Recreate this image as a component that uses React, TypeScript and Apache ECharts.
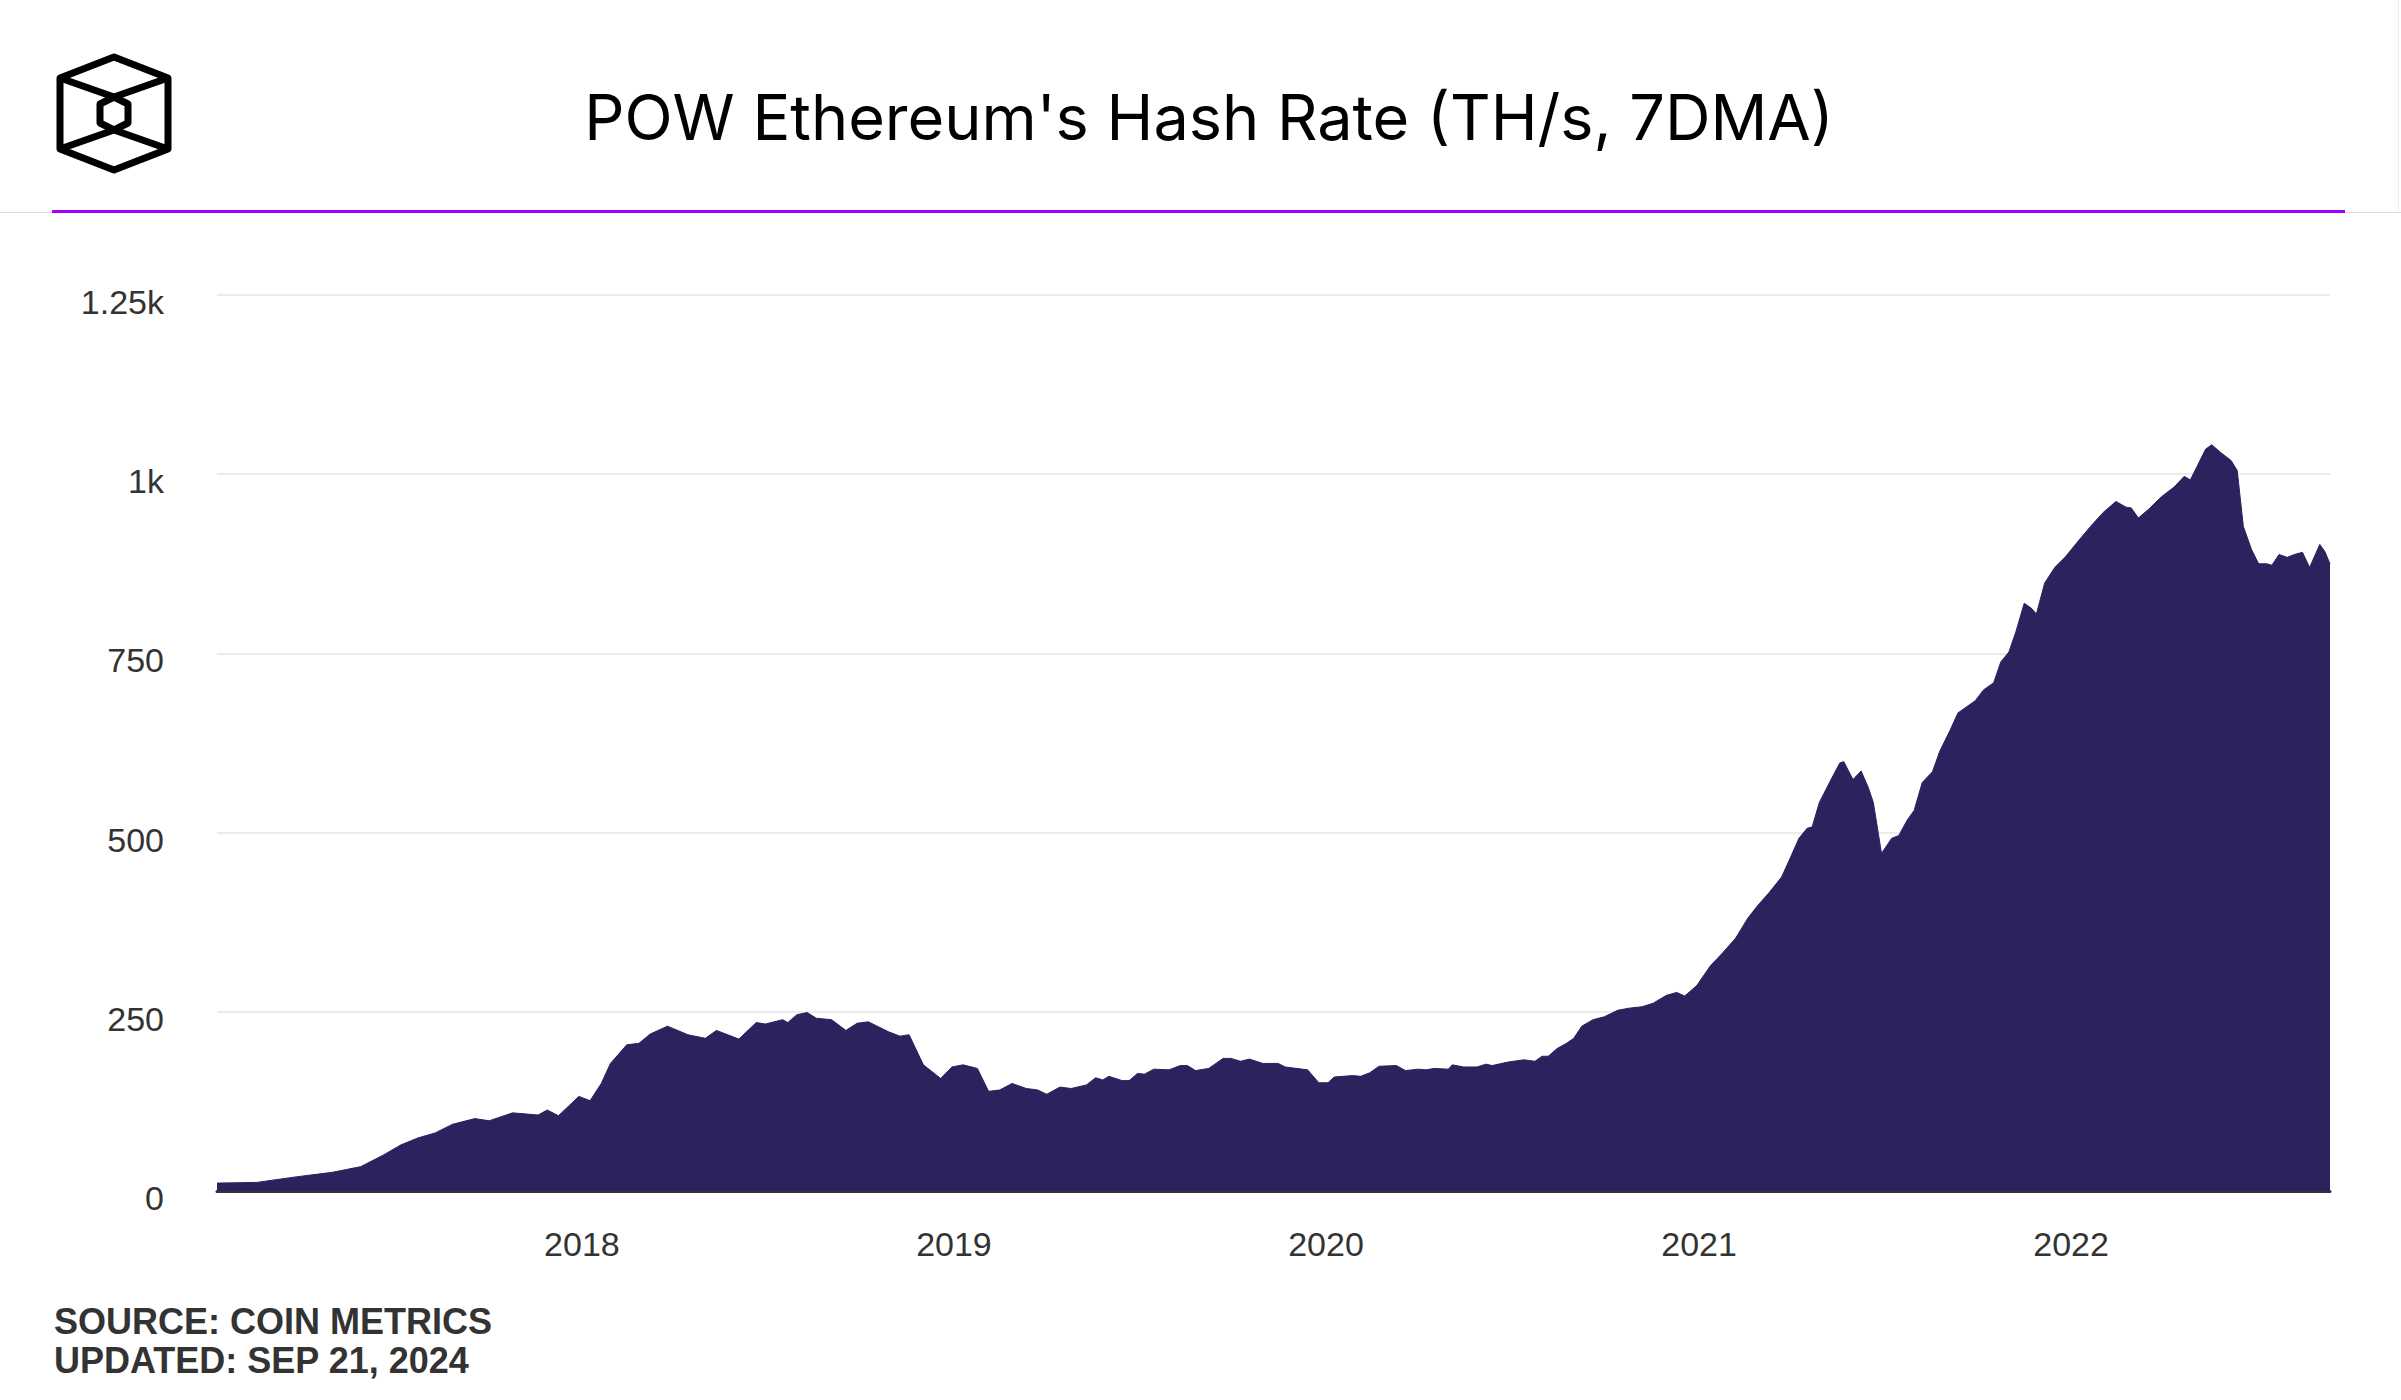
import React, { useEffect, useRef } from "react";
import * as echarts from "echarts";

const TITLE = "POW Ethereum's Hash Rate (TH/s, 7DMA)";
const SOURCE_LINE = "SOURCE: COIN METRICS";
const UPDATED_LINE = "UPDATED: SEP 21, 2024";

const yTicks = [0, 250, 500, 750, 1000, 1250];

const dates = [
  "2017-01-08", "2017-02-16", "2017-03-28", "2017-05-01", "2017-05-29", "2017-06-20", "2017-07-07", "2017-07-24",
  "2017-08-10", "2017-08-27", "2017-09-18", "2017-10-02", "2017-10-25", "2017-11-19", "2017-11-28", "2017-12-09",
  "2017-12-29", "2018-01-09", "2018-01-20", "2018-01-29", "2018-02-14", "2018-02-26", "2018-03-09", "2018-03-26",
  "2018-04-15", "2018-05-02", "2018-05-13", "2018-06-04", "2018-06-21", "2018-06-30", "2018-07-17", "2018-07-22",
  "2018-07-31", "2018-08-10", "2018-08-19", "2018-09-03", "2018-09-17", "2018-09-28", "2018-10-09", "2018-10-29",
  "2018-11-09", "2018-11-18", "2018-12-02", "2018-12-19", "2018-12-30", "2019-01-10", "2019-01-24", "2019-02-04",
  "2019-02-15", "2019-02-27", "2019-03-13", "2019-03-24", "2019-04-02", "2019-04-15", "2019-04-26", "2019-05-11",
  "2019-05-20", "2019-05-27", "2019-06-02", "2019-06-15", "2019-06-22", "2019-06-30", "2019-07-07", "2019-07-16",
  "2019-07-31", "2019-08-11", "2019-08-18", "2019-08-26", "2019-09-08", "2019-09-22", "2019-09-30", "2019-10-09",
  "2019-10-18", "2019-10-31", "2019-11-15", "2019-11-22", "2019-12-14", "2019-12-25", "2020-01-03", "2020-01-09",
  "2020-01-27", "2020-02-04", "2020-02-13", "2020-02-22", "2020-03-10", "2020-03-19", "2020-04-01", "2020-04-08",
  "2020-04-16", "2020-04-30", "2020-05-04", "2020-05-15", "2020-05-28", "2020-06-06", "2020-06-12", "2020-06-28",
  "2020-07-13", "2020-07-24", "2020-07-31", "2020-08-06", "2020-08-15", "2020-08-24", "2020-08-31", "2020-09-08",
  "2020-09-19", "2020-09-30", "2020-10-13", "2020-10-24", "2020-11-06", "2020-11-17", "2020-11-30", "2020-12-10",
  "2020-12-18", "2020-12-30", "2021-01-12", "2021-01-24", "2021-02-06", "2021-02-18", "2021-02-28", "2021-03-10",
  "2021-03-23", "2021-03-30", "2021-04-09", "2021-04-17", "2021-04-22", "2021-04-29", "2021-05-09", "2021-05-19",
  "2021-05-23", "2021-06-01", "2021-06-09", "2021-06-16", "2021-06-21", "2021-06-29", "2021-07-09", "2021-07-16",
  "2021-07-24", "2021-07-31", "2021-08-08", "2021-08-18", "2021-08-25", "2021-09-04", "2021-09-12", "2021-09-22",
  "2021-09-29", "2021-10-07", "2021-10-17", "2021-10-24", "2021-11-01", "2021-11-08", "2021-11-16", "2021-11-23",
  "2021-11-28", "2021-12-06", "2021-12-16", "2021-12-26", "2022-01-07", "2022-01-20", "2022-02-01", "2022-02-14",
  "2022-02-24", "2022-03-01", "2022-03-08", "2022-03-18", "2022-03-31", "2022-04-12", "2022-04-22", "2022-04-28",
  "2022-05-05", "2022-05-13", "2022-05-19", "2022-05-28", "2022-06-07", "2022-06-13", "2022-06-19", "2022-06-27",
  "2022-07-04", "2022-07-12", "2022-07-17", "2022-07-24", "2022-08-01", "2022-08-08", "2022-08-16", "2022-08-23",
  "2022-09-02", "2022-09-07", "2022-09-12",
];

const hashRate = [
  11, 12, 20, 26, 34, 50, 64, 74,
  81, 93, 101, 98, 109, 106, 113, 105,
  132, 126, 150, 178, 204, 206, 219, 230,
  218, 213, 224, 212, 235, 233, 239, 235,
  246, 249, 241, 239, 224, 234, 236, 222,
  216, 218, 176, 157, 173, 176, 171, 139,
  141, 150, 143, 141, 135, 145, 143, 148,
  158, 155, 160, 154, 154, 164, 163, 170,
  169, 175, 175, 168, 171, 185, 185, 181,
  184, 178, 178, 173, 169, 151, 151, 159,
  161, 160, 165, 174, 175, 168, 170, 169,
  171, 170, 176, 173, 173, 177, 175, 180,
  183, 181, 188, 188, 199, 206, 213, 230,
  239, 243, 252, 255, 257, 262, 273, 277,
  272, 287, 314, 332, 353, 381, 399, 415,
  438, 460, 492, 506, 508, 542, 570, 597,
  599, 574, 586, 563, 542, 471, 492, 496,
  517, 531, 570, 585, 613, 642, 667, 677,
  684, 699, 709, 738, 752, 781, 820, 813,
  805, 848, 870, 884, 905, 927, 946, 962,
  954, 953, 939, 951, 969, 982, 997, 992,
  1012, 1035, 1041, 1030, 1019, 1005, 927, 895,
  875, 875, 873, 888, 884, 888, 891, 870,
  902, 892, 875,
];

const AREA_COLOR = "#2a235d";

export default function App() {
  const ref = useRef<HTMLDivElement>(null);

  useEffect(() => {
    document.body.style.margin = "0";
    document.body.style.overflow = "hidden";
    if (!ref.current) return;
    const chart = echarts.init(ref.current, undefined, { renderer: "svg" });
    const seriesData = dates.map((d, i) => [d, hashRate[i]]);
    const option = {
      animation: false,
      backgroundColor: "#ffffff",
      grid: { left: 217, right: 71, top: 295, bottom: 209, containLabel: false },
      xAxis: {
        type: "time",
        min: dates[0],
        max: dates[dates.length - 1],
        minInterval: 365 * 24 * 3600 * 1000,
        maxInterval: 366 * 24 * 3600 * 1000,
        axisLine: { show: true, lineStyle: { color: "#333333", width: 3 } },
        axisTick: { show: false },
        splitLine: { show: false },
        axisLabel: {
          color: "#333333",
          fontSize: 34,
          fontFamily: "Liberation Sans, Arial, sans-serif",
          margin: 36,
          showMinLabel: false,
          showMaxLabel: false,
          formatter: (v: number) => {
            const d = new Date(v);
            return d.getMonth() === 0 && d.getDate() === 1 ? String(d.getFullYear()) : "";
          },
        },
      },
      yAxis: {
        type: "value",
        min: yTicks[0],
        max: yTicks[yTicks.length - 1],
        interval: 250,
        axisLine: { show: false },
        axisTick: { show: false },
        splitLine: { show: true, lineStyle: { color: "#ececec", width: 2 } },
        axisLabel: {
          color: "#333333",
          fontSize: 34,
          fontFamily: "Liberation Sans, Arial, sans-serif",
          margin: 53,
          verticalAlign: "top",
          lineHeight: 14,
          formatter: (v: number) => (v >= 1000 ? `${v / 1000}k` : String(v)),
        },
      },
      series: [
        {
          type: "line",
          data: seriesData,
          showSymbol: false,
          symbol: "none",
          lineStyle: { color: AREA_COLOR, width: 1 },
          areaStyle: { color: AREA_COLOR, opacity: 1 },
          z: 1,
        },
      ],
      graphic: [
        { type: "line", shape: { x1: 0, y1: 212.5, x2: 2401, y2: 212.5 }, style: { stroke: "#e2d2f2", lineWidth: 1 } },
        { type: "line", shape: { x1: 2398.5, y1: 0, x2: 2398.5, y2: 212 }, style: { stroke: "#eeeeee", lineWidth: 1 } },
        { type: "rect", shape: { x: 52, y: 210, width: 2293, height: 3 }, style: { fill: "#a100ff" } },
        {
          type: "polygon",
          shape: { points: [[114, 57], [168, 78], [168, 149], [114, 170], [60, 149], [60, 78]] },
          style: { fill: "none", stroke: "#000000", lineWidth: 7, lineJoin: "round" },
        },
        {
          type: "polyline",
          shape: { points: [[60, 78], [114, 97], [168, 78]] },
          style: { fill: "none", stroke: "#000000", lineWidth: 7, lineJoin: "round" },
        },
        {
          type: "polyline",
          shape: { points: [[60, 149], [114, 130], [168, 149]] },
          style: { fill: "none", stroke: "#000000", lineWidth: 7, lineJoin: "round" },
        },
        {
          type: "polygon",
          shape: { points: [[114, 97], [128, 104], [128, 123], [114, 130], [100, 123], [100, 104]] },
          style: { fill: "none", stroke: "#000000", lineWidth: 7, lineJoin: "round" },
        },
        {
          type: "text",
          x: 1209,
          y: 117,
          style: {
            text: TITLE,
            fontSize: 63,
            fontFamily: "Inter, sans-serif",
            fontWeight: 400,
            fill: "#000000",
            textAlign: "center",
            textVerticalAlign: "middle",
          },
        },
        {
          type: "text",
          x: 54,
          y: 1321,
          style: {
            text: SOURCE_LINE,
            fontSize: 36,
            fontFamily: "Liberation Sans, Arial, sans-serif",
            fontWeight: "bold",
            fill: "#333333",
            textAlign: "left",
            textVerticalAlign: "middle",
          },
        },
        {
          type: "text",
          x: 54,
          y: 1360,
          style: {
            text: UPDATED_LINE,
            fontSize: 36,
            fontFamily: "Liberation Sans, Arial, sans-serif",
            fontWeight: "bold",
            fill: "#333333",
            textAlign: "left",
            textVerticalAlign: "middle",
          },
        },
      ],
    };
    chart.setOption(option as any);
    return () => {
      chart.dispose();
    };
  }, []);

  return <div ref={ref} style={{ width: 2401, height: 1400 }} />;
}
